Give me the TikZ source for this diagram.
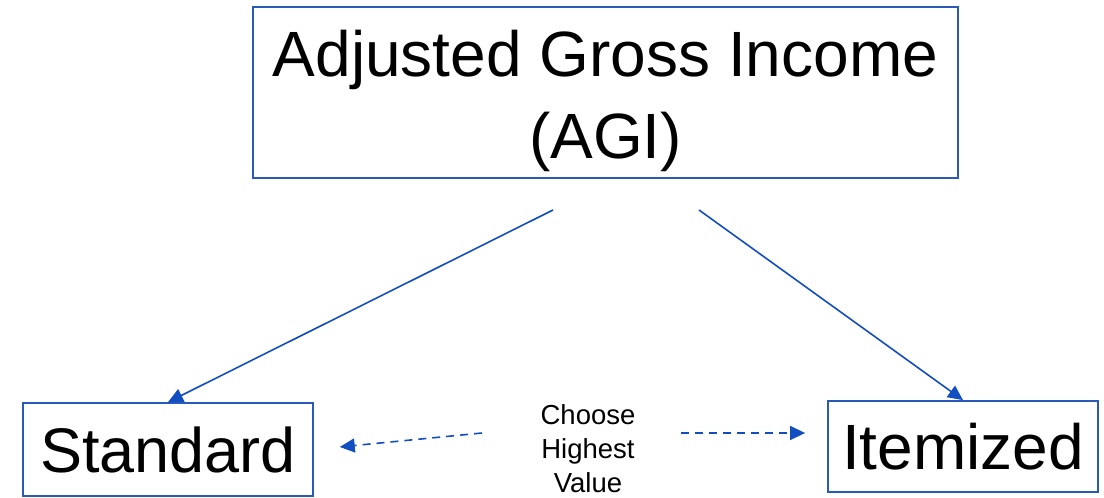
\documentclass[tikz,border=0pt]{standalone}
\usepackage{fontspec}
\setmainfont{Liberation Sans}
\usetikzlibrary{arrows.meta}
\definecolor{linkblue}{RGB}{18,78,192}
\definecolor{boxblue}{RGB}{40,90,190}
\begin{document}
\begin{tikzpicture}[x=1pt,y=-1pt,
  box/.style={draw=boxblue,line width=1.8pt,inner sep=0pt,align=center},
  link/.style={draw=linkblue,line width=1.6pt,-{Triangle[length=15pt,width=14pt]}},
  choice/.style={link,dash pattern=on 8pt off 6pt}]
\useasboundingbox (0,0) rectangle (1104,498);
% struts fix the two baselines inside the title box
\node[box,minimum width=705pt,minimum height=169pt,
  font=\fontsize{64}{82}\selectfont] (agi) at (605.5,92.5)
  {\rule{0pt}{69pt}Adjusted Gross Income\\(AGI)\rule[-20pt]{0pt}{20pt}};
\node[box,minimum width=290pt,minimum height=93pt,
  font=\fontsize{63}{70}\selectfont] (std) at (168,449.5) {Standard};
\node[box,minimum width=270pt,minimum height=91pt,
  font=\fontsize{64}{70}\selectfont] (item) at (963,446.5) {Itemized};
\node[align=center,font=\fontsize{27.5}{34}\selectfont] (pick) at (588,449)
  {Choose\\Highest\\Value};
\coordinate (fromL) at (553,210);
\coordinate (fromR) at (699,210);
\coordinate (dashL) at (482,433);
\coordinate (dashR) at (681,433);
\draw[link] (fromL) -- (std.north);
\draw[link] (fromR) -- (item.north);
\draw[choice,shorten >=26pt] (dashL) -- (std.east);
\draw[choice,shorten >=22pt] (dashR) -- (dashR -| item.west);
\end{tikzpicture}
\end{document}
